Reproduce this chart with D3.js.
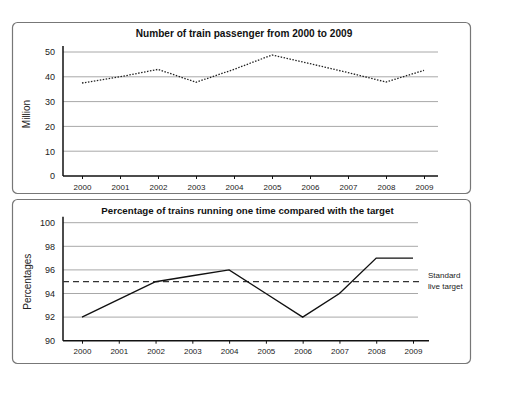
<!DOCTYPE html>
<html>
<head>
<meta charset="utf-8">
<script src="https://cdn.jsdelivr.net/npm/d3@7"></script>
<style>
body { margin: 0; background: #fff; }
svg { display: block; font-family: "Liberation Sans", Arial, sans-serif; }
</style>
</head>
<body>
<script>
var years = [2000, 2001, 2002, 2003, 2004, 2005, 2006, 2007, 2008, 2009];
var passengers = [37.5, 40, 43, 37.8, 43, 48.8, 45.3, 41.7, 37.9, 42.6];
var onTime = [92, 93.5, 95, 95.5, 96, 94, 92, 94, 97, 97];
var targetValue = 95;
var passengerTicks = [0, 10, 20, 30, 40, 50];
var percentTicks = [90, 92, 94, 96, 98, 100];

(function()
{
    var w = 511, h = 408;
    var svg = d3.select("body").append("svg").attr("width", w).attr("height", h);

    // panel frames
    svg.append("rect").attr("x", 12.5).attr("y", 22.5).attr("width", 458).attr("height", 171)
        .attr("rx", 5).attr("fill", "none").attr("stroke", "#777").attr("stroke-width", 1.2);
    svg.append("rect").attr("x", 12.5).attr("y", 199.5).attr("width", 458).attr("height", 164)
        .attr("rx", 5).attr("fill", "none").attr("stroke", "#777").attr("stroke-width", 1.2);

    function panel(opt) {
        var x = d3.scalePoint().domain(years).range([82, opt.xEnd]);
        var y = d3.scaleLinear().domain(opt.domain).range([opt.bottom, opt.top]);
        var g = svg.append("g");

        // gridlines
        g.selectAll("line.grid")
            .data(opt.ticks.slice(1))
            .enter()
            .append("line")
            .attr("class", "grid")
            .attr("x1", 63).attr("x2", opt.gridEnd)
            .attr("y1", function(d) { return y(d); })
            .attr("y2", function(d) { return y(d); })
            .attr("stroke", "#a8a8a8").attr("stroke-width", 1);

        // y axis
        var yAxis = g.append("g").attr("transform", "translate(63,0)")
            .call(d3.axisLeft(y).tickValues(opt.ticks).tickSize(0).tickPadding(8));
        yAxis.select(".domain").remove();
        yAxis.selectAll("text").attr("font-size", "9px").attr("fill", "#222")
            .attr("font-family", "Liberation Sans, Arial, sans-serif");
        g.append("line").attr("x1", 63).attr("x2", 63)
            .attr("y1", opt.top - 6).attr("y2", opt.bottom)
            .attr("stroke", "#111").attr("stroke-width", 1.5);

        // x axis
        var xAxis = g.append("g").attr("transform", "translate(0," + opt.bottom + ")")
            .call(d3.axisBottom(x).tickSize(3).tickPadding(5));
        xAxis.select(".domain").remove();
        xAxis.selectAll("line").attr("stroke", "#111");
        xAxis.selectAll("text").attr("font-size", "8px").attr("fill", "#222")
            .attr("font-family", "Liberation Sans, Arial, sans-serif");
        g.append("line").attr("x1", 63).attr("x2", opt.axisEnd)
            .attr("y1", opt.bottom).attr("y2", opt.bottom)
            .attr("stroke", "#111").attr("stroke-width", 1.5);

        // title
        g.append("text").attr("x", opt.titleX).attr("y", opt.titleY)
            .attr("text-anchor", "middle").attr("font-size", opt.titleSize)
            .attr("font-weight", "bold").attr("fill", "#111").text(opt.title);

        // y label
        g.append("text")
            .attr("transform", "translate(" + opt.labelX + "," + ((opt.top + opt.bottom) / 2) + ") rotate(-90)")
            .attr("text-anchor", "middle").attr("font-size", "10px").attr("fill", "#222")
            .text(opt.yLabel);

        return { g: g, x: x, y: y };
    }

    var p1 = panel({
        domain: [0, 50], ticks: passengerTicks, top: 52, bottom: 176,
        xEnd: 424, gridEnd: 438, axisEnd: 438, titleX: 244, titleY: 37, titleSize: "10.1px",
        title: "Number of train passenger from 2000 to 2009",
        yLabel: "Million", labelX: 30
    });
    p1.g.append("path").datum(passengers)
        .attr("d", d3.line()
            .x(function(d, i) { return p1.x(years[i]); })
            .y(function(d) { return p1.y(d); }))
        .attr("fill", "none").attr("stroke", "#222").attr("stroke-width", 1.3)
        .attr("stroke-dasharray", "1.5,1.5");

    var p2 = panel({
        domain: [90, 100], ticks: percentTicks, top: 222.7, bottom: 340.7,
        xEnd: 413, gridEnd: 418, axisEnd: 429, titleX: 247.5, titleY: 214, titleSize: "9.7px",
        title: "Percentage of trains running one time compared with the target",
        yLabel: "Percentages", labelX: 31
    });
    p2.g.append("line").datum(targetValue)
        .attr("x1", 63).attr("x2", 423)
        .attr("y1", function(d) { return p2.y(d); })
        .attr("y2", function(d) { return p2.y(d); })
        .attr("stroke", "#333").attr("stroke-width", 1.3)
        .attr("stroke-dasharray", "6,4");
    p2.g.append("path").datum(onTime)
        .attr("d", d3.line()
            .x(function(d, i) { return p2.x(years[i]); })
            .y(function(d) { return p2.y(d); }))
        .attr("fill", "none").attr("stroke", "#111").attr("stroke-width", 1.4);
    p2.g.append("text").attr("x", 428).attr("y", p2.y(targetValue) - 4)
        .attr("font-size", "8px").attr("fill", "#222").text("Standard");
    p2.g.append("text").attr("x", 428).attr("y", p2.y(targetValue) + 7)
        .attr("font-size", "8px").attr("fill", "#222").text("live target");
})();
</script>
</body>
</html>
